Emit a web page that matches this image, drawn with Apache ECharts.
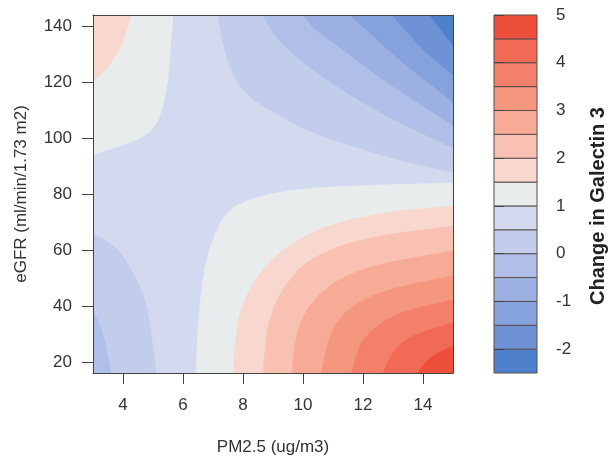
<!DOCTYPE html>
<html>
<head>
<meta charset="utf-8">
<script src="https://cdn.jsdelivr.net/npm/echarts@6/dist/echarts.min.js"></script>
<style>html,body{margin:0;padding:0;background:#fff}#c{width:609px;height:458px}</style>
</head>
<body>
<div id="c"></div>
<script>
// ---------- data ----------
const xTicks = [4, 6, 8, 10, 12, 14];
const yTicks = [20, 40, 60, 80, 100, 120, 140];
const barTicks = [-2, -1, 0, 1, 2, 3, 4, 5];
const levels = [-2.5, -2, -1.5, -1, -0.5, 0, 0.5, 1, 1.5, 2, 2.5, 3, 3.5, 4, 4.5, 5];
const xRange = [3, 15];
const yRange = [16.2, 144.2];

// contour lines [PM2.5, eGFR]
// top-left branch (z >= level inside)
const tl_1_5 = [[4.27,144.2],[4.10,137.0],[3.77,129.9],[3.40,123.8],[3.0,120.9]];
const tl_1   = [[5.67,144.2],[5.57,131.7],[5.5,120.2],[5.27,108.4],[4.93,102.3],[4.33,98.8],[3.67,96.6],[3.0,94.1]];
// top-right branch (z <= level inside)
const tr_0_5 = [[7.17,144.2],[7.33,132.4],[7.77,120.2],[8.23,114.5],[9.0,109.5],[10.07,103.1],[11.2,98.8],[12.3,95.2],[13.4,91.6],[15,88.0]];
const tr_0   = [[8.67,144.2],[8.97,137.0],[10.07,126.3],[11.2,118.1],[12.3,110.9],[13.4,104.8],[15,96.6]];
const tr_m0_5 = [[10.0,144.2],[10.3,139.5],[11.2,133.0],[12.3,123.8],[13.4,115.6],[15,104.8]];
const tr_m1  = [[11.57,144.2],[12.3,137.0],[13.4,126.3],[15,113.1]];
const tr_m1_5 = [[12.97,144.2],[13.63,135.9],[14.3,128.8],[15,122.7]];
const tr_m2  = [[14.23,144.2],[14.63,138.1],[15,133.4]];
// bottom-left branch (z <= level inside)
const bl_0_5 = [[3.0,66.2],[3.67,62.7],[4.23,54.4],[4.67,44.8],[4.93,33.0],[5.1,16.2]];
const bl_0   = [[3.0,38.7],[3.23,33.3],[3.43,26.2],[3.6,16.2]];
// bottom-right branch (z >= level inside)
const br_1   = [[6.43,16.2],[6.5,33.0],[6.6,44.8],[6.77,56.6],[7.07,66.2],[7.43,73.7],[8.1,78.0],[9.0,80.5],[10.67,83.0],[15,84.1]];
const br_1_5 = [[7.67,16.2],[7.77,33.0],[8.0,41.2],[8.33,48.4],[8.97,57.6],[10.07,65.5],[11.17,70.2],[12.3,72.7],[13.4,74.5],[15,75.9]];
const br_2   = [[8.67,16.2],[8.77,29.8],[8.97,38.7],[9.4,47.6],[10.07,55.9],[11.17,61.6],[12.3,64.8],[13.57,66.9],[15,68.7]];
const br_2_5 = [[9.63,16.2],[9.73,28.0],[10.0,36.9],[10.5,44.1],[11.23,50.1],[12.3,54.4],[13.57,57.3],[15,59.8]];
const br_3   = [[10.63,16.2],[10.77,26.2],[11.1,34.4],[11.63,40.1],[12.4,44.4],[13.57,48.0],[15,50.9]];
const br_3_5 = [[11.63,16.2],[11.8,24.4],[12.17,30.5],[12.73,35.1],[13.57,39.1],[15,42.3]];
const br_4   = [[12.67,16.2],[12.9,22.6],[13.3,27.3],[13.9,30.8],[15,34.1]];
const br_4_5 = [[13.83,16.2],[14.07,20.1],[14.43,23.3],[15,25.8]];

// ---------- styling ----------
const palette = ['#4e80cc','#6f92d6','#86a2dc','#9cb1e2','#afbfe8','#c2cdec','#d3daf0','#e8ecec',
                 '#f8d8ce','#f8c1b1','#f7ab97','#f5967f','#f2806a','#f16a55','#ee4f3b'];
const FONT = 'Liberation Sans, Arial, sans-serif';
const TXT = '#333';

function bandAbove(level) { return palette[levels.indexOf(level)]; }
function bandBelow(level) { return palette[levels.indexOf(level) - 1]; }

const TL = [xRange[0], yRange[1]], TR = [xRange[1], yRange[1]];
const BL = [xRange[0], yRange[0]], BR = [xRange[1], yRange[0]];

const regions = [
  { line: [BL, TL, TR], corner: BR, color: bandAbove(0.5), straight: true },
  { line: tr_0_5, corner: TR, color: bandBelow(0.5) },
  { line: bl_0_5, corner: BL, color: bandBelow(0.5) },
  { line: tl_1, corner: TL, color: bandAbove(1) },
  { line: br_1, corner: BR, color: bandAbove(1) },
  { line: tr_0, corner: TR, color: bandBelow(0) },
  { line: bl_0, corner: BL, color: bandBelow(0) },
  { line: tl_1_5, corner: TL, color: bandAbove(1.5) },
  { line: br_1_5, corner: BR, color: bandAbove(1.5) },
  { line: tr_m0_5, corner: TR, color: bandBelow(-0.5) },
  { line: br_2, corner: BR, color: bandAbove(2) },
  { line: tr_m1, corner: TR, color: bandBelow(-1) },
  { line: br_2_5, corner: BR, color: bandAbove(2.5) },
  { line: tr_m1_5, corner: TR, color: bandBelow(-1.5) },
  { line: br_3, corner: BR, color: bandAbove(3) },
  { line: tr_m2, corner: TR, color: bandBelow(-2) },
  { line: br_3_5, corner: BR, color: bandAbove(3.5) },
  { line: br_4, corner: BR, color: bandAbove(4) },
  { line: br_4_5, corner: BR, color: bandAbove(4.5) }
];

const bands = levels.slice(0, -1).map((lo, i) => [0, lo, levels[i + 1]]);

const lbl = { color: TXT, fontSize: 17, fontFamily: FONT };

function f(v) { return v.toFixed(2); }
function smoothPath(pts, corner, straight) {
  let d = 'M' + f(pts[0][0]) + ' ' + f(pts[0][1]);
  if (straight || pts.length < 3) {
    for (let i = 1; i < pts.length; i++) d += ' L' + f(pts[i][0]) + ' ' + f(pts[i][1]);
  } else {
    for (let i = 1; i < pts.length - 1; i++) {
      const mx = (pts[i][0] + pts[i + 1][0]) / 2, my = (pts[i][1] + pts[i + 1][1]) / 2;
      const last = (i === pts.length - 2);
      const ex = last ? pts[i + 1][0] : mx, ey = last ? pts[i + 1][1] : my;
      d += ' Q' + f(pts[i][0]) + ' ' + f(pts[i][1]) + ' ' + f(ex) + ' ' + f(ey);
    }
  }
  d += ' L' + f(corner[0]) + ' ' + f(corner[1]) + ' Z';
  return d;
}

const chart = echarts.init(document.getElementById('c'), null, { renderer: 'canvas' });
chart.setOption({
  animation: false,
  backgroundColor: '#fff',
  grid: [
    { left: 93, top: 15, width: 360, height: 358 },
    { left: 494, top: 15, width: 43, height: 358 }
  ],
  xAxis: [
    { gridIndex: 0, type: 'value', min: xRange[0], max: xRange[1], z: 10,
      axisLine: { show: true, onZero: false, lineStyle: { color: '#444', width: 1 } },
      axisTick: { show: true, length: 11, customValues: xTicks, lineStyle: { color: '#444' } },
      axisLabel: Object.assign({ margin: 24, customValues: xTicks }, lbl),
      splitLine: { show: false } },
    { gridIndex: 0, type: 'value', position: 'top', min: xRange[0], max: xRange[1], z: 10,
      axisLine: { show: true, onZero: false, lineStyle: { color: '#444', width: 1 } },
      axisTick: { show: false }, axisLabel: { show: false }, splitLine: { show: false } },
    { gridIndex: 1, type: 'value', min: 0, max: 1, show: false }
  ],
  yAxis: [
    { gridIndex: 0, type: 'value', min: yRange[0], max: yRange[1], z: 10,
      axisLine: { show: true, onZero: false, lineStyle: { color: '#444', width: 1 } },
      axisTick: { show: true, length: 11, customValues: yTicks, lineStyle: { color: '#444' } },
      axisLabel: Object.assign({ margin: 21, customValues: yTicks }, lbl),
      splitLine: { show: false } },
    { gridIndex: 0, type: 'value', position: 'right', min: yRange[0], max: yRange[1], z: 10,
      axisLine: { show: true, onZero: false, lineStyle: { color: '#444', width: 1 } },
      axisTick: { show: false }, axisLabel: { show: false }, splitLine: { show: false } },
    { gridIndex: 1, type: 'value', position: 'right', min: levels[0], max: levels[levels.length - 1], z: 10,
      axisLine: { show: false },
      axisTick: { show: true, length: 10, customValues: barTicks, lineStyle: { color: '#444' } },
      axisLabel: Object.assign({ margin: 19, customValues: barTicks }, lbl),
      splitLine: { show: false } }
  ],
  series: [
    {
      type: 'custom', xAxisIndex: 0, yAxisIndex: 0, z: 1, silent: true, clip: true,
      data: regions.map(r => r.corner),
      renderItem: function (params, api) {
        const r = regions[params.dataIndex];
        const pts = r.line.map(p => api.coord(p));
        const c = api.coord(r.corner);
        return { type: 'path', shape: { pathData: smoothPath(pts, c, r.straight) },
                 style: { fill: r.color, stroke: r.color, lineWidth: 0.6 } };
      }
    },
    {
      type: 'custom', xAxisIndex: 2, yAxisIndex: 2, z: 1, silent: true,
      data: bands,
      renderItem: function (params, api) {
        const p1 = api.coord([0, api.value(2)]);
        const p2 = api.coord([1, api.value(1)]);
        return { type: 'rect', shape: { x: p1[0], y: p1[1], width: p2[0] - p1[0], height: p2[1] - p1[1] },
                 style: { fill: palette[params.dataIndex], stroke: '#5a4d4d', lineWidth: 1 } };
      }
    }
  ],
  graphic: [
    { type: 'text', x: 273, y: 447, silent: true,
      style: { text: 'PM2.5 (ug/m3)', fill: TXT, font: '17px ' + FONT, textAlign: 'center', textVerticalAlign: 'middle' } },
    { type: 'text', x: 21, y: 194, rotation: Math.PI / 2, silent: true,
      style: { text: 'eGFR (ml/min/1.73 m2)', fill: TXT, font: '17px ' + FONT, textAlign: 'center', textVerticalAlign: 'middle' } },
    { type: 'text', x: 598, y: 206, rotation: Math.PI / 2, silent: true,
      style: { text: 'Change in Galectin 3', fill: '#222', font: 'bold 20px ' + FONT, textAlign: 'center', textVerticalAlign: 'middle' } }
  ]
});
</script>
</body>
</html>
